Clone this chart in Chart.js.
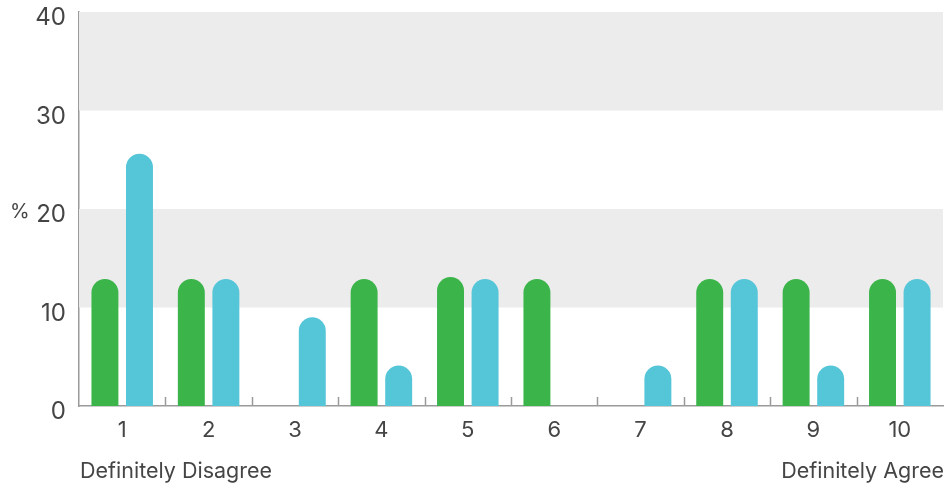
<!DOCTYPE html>
<html>
<head>
<meta charset="utf-8">
<script src="https://cdn.jsdelivr.net/npm/chart.js@4.4.1/dist/chart.umd.min.js"></script>
<style>
  html, body { margin: 0; padding: 0; background: #ffffff; }
  #wrap { width: 947px; height: 488px; }
</style>
</head>
<body>
<div id="wrap"><canvas id="chart"></canvas></div>
<script>
// Survey scale 1 (definitely disagree) .. 10 (definitely agree), share of answers in %
const categories = ['1', '2', '3', '4', '5', '6', '7', '8', '9', '10'];
const greenValues = [12.9, 12.9, 0, 12.9, 13.1, 12.9, 0, 12.9, 12.9, 12.9];
const blueValues  = [25.6, 12.9, 9.0, 4.1, 12.9, 0, 4.1, 12.9, 4.1, 12.9];
const yTicks = [0, 10, 20, 30, 40];
const bands = [[30, 40], [10, 20]];
const scaleEnds = ['Definitely Disagree', 'Definitely Agree'];
const unitLabel = '%';

const FONT = 'Inter, "Open Sans", sans-serif';
const TEXT = '#454545';

// shaded horizontal bands behind the bars
const bandPlugin = {
  id: 'bands',
  beforeDatasetsDraw(chart) {
    const { ctx, chartArea, scales: { y } } = chart;
    ctx.save();
    ctx.fillStyle = '#ececec';
    bands.forEach(([lo, hi]) => {
      const top = y.getPixelForValue(hi);
      const bottom = y.getPixelForValue(lo);
      ctx.fillRect(chartArea.left, top, chartArea.right - chartArea.left, bottom - top);
    });
    ctx.restore();
  }
};

// short separators between categories, standing on the x axis
const separatorPlugin = {
  id: 'separators',
  afterDatasetsDraw(chart) {
    const { ctx, chartArea, scales: { x } } = chart;
    ctx.save();
    ctx.strokeStyle = '#9a9a9a';
    ctx.lineWidth = 1.5;
    for (let i = 1; i < categories.length; i++) {
      const px = Math.round((x.getPixelForValue(i - 1) + x.getPixelForValue(i)) / 2) + 0.5;
      ctx.beginPath();
      ctx.moveTo(px, chartArea.bottom - 9);
      ctx.lineTo(px, chartArea.bottom);
      ctx.stroke();
    }
    ctx.restore();
  }
};

// unit sign next to the y ticks and the two scale end captions
const captionPlugin = {
  id: 'captions',
  afterDraw(chart) {
    const { ctx, chartArea, scales: { y } } = chart;
    ctx.save();
    ctx.fillStyle = TEXT;
    ctx.font = '20px ' + FONT;
    ctx.textBaseline = 'middle';
    ctx.textAlign = 'left';
    ctx.fillText(unitLabel, 10, y.getPixelForValue(20) + 3);
    ctx.font = '21.5px ' + FONT;
    ctx.textBaseline = 'alphabetic';
    ctx.fillText(scaleEnds[0], chartArea.left + 1, 478);
    ctx.textAlign = 'right';
    ctx.fillText(scaleEnds[1], chartArea.right + 1, 478);
    ctx.restore();
  }
};

const barStyle = {
  borderRadius: { topLeft: 14, topRight: 14, bottomLeft: 0, bottomRight: 0 },
  borderSkipped: 'start',
  categoryPercentage: 0.8,
  barPercentage: 0.78
};

new Chart(document.getElementById('chart'), {
  type: 'bar',
  data: {
    labels: categories,
    datasets: [
      Object.assign({ label: 'A', data: greenValues, backgroundColor: '#3bb54a' }, barStyle),
      Object.assign({ label: 'B', data: blueValues, backgroundColor: '#55c5d8' }, barStyle)
    ]
  },
  options: {
    responsive: true,
    maintainAspectRatio: false,
    animation: false,
    layout: { autoPadding: false, padding: { top: 12, right: 4, bottom: 0, left: 0 } },
    plugins: {
      legend: { display: false },
      tooltip: { enabled: false }
    },
    scales: {
      x: {
        grid: { display: false, drawTicks: false },
        border: { display: true, color: '#9a9a9a', width: 1.5 },
        ticks: {
          color: TEXT,
          font: { family: FONT, size: 22 },
          padding: 11,
          maxRotation: 0
        },
        afterFit(scale) {
          scale.height = 82;
          scale.paddingLeft = 0;
          scale.paddingRight = 0;
        }
      },
      y: {
        min: 0,
        max: 40,
        afterBuildTicks(scale) { scale.ticks = yTicks.map(v => ({ value: v })); },
        grid: { display: false, drawTicks: false },
        border: { display: true, color: '#9a9a9a', width: 1.5 },
        ticks: {
          color: TEXT,
          font: { family: FONT, size: 24 },
          padding: 13,
          labelOffset: 6
        },
        afterFit(scale) {
          scale.width = 79;
          scale.paddingTop = 0;
          scale.paddingBottom = 0;
        }
      }
    }
  },
  plugins: [bandPlugin, separatorPlugin, captionPlugin]
});
</script>
</body>
</html>
